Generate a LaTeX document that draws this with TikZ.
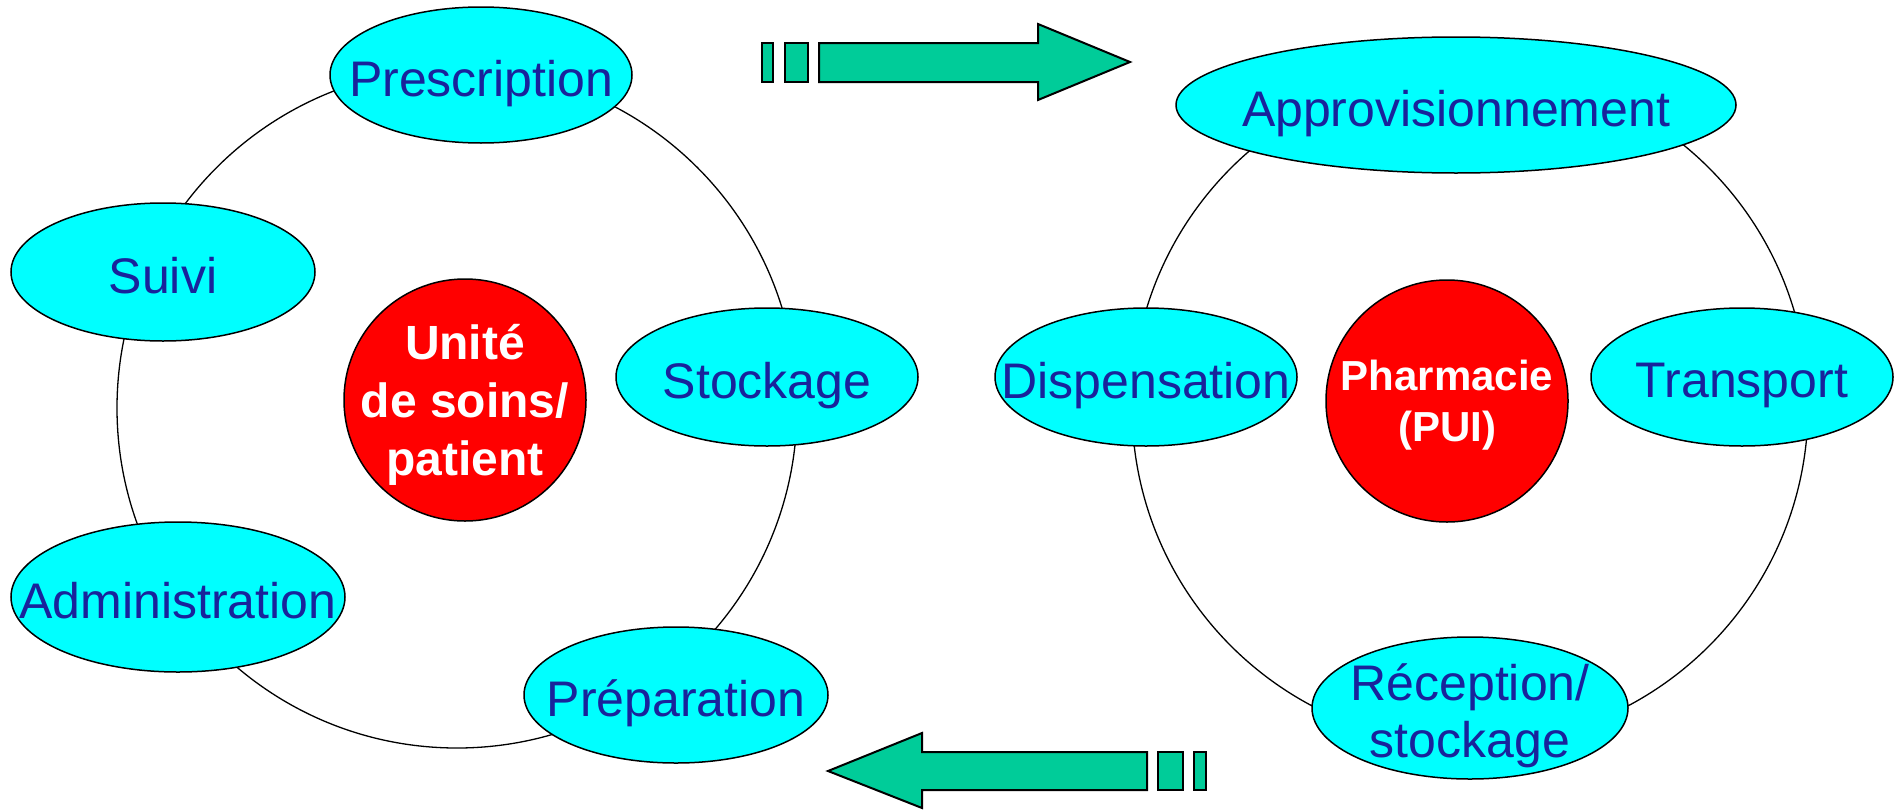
\documentclass[tikz,border=0pt]{standalone}
\usepackage{fontspec}
\setmainfont{Liberation Sans}
\usepackage{tikz}
\usetikzlibrary{shapes.geometric}
\definecolor{cyanfill}{RGB}{0,255,255}
\definecolor{stageblue}{RGB}{25,35,155}
\definecolor{flowgreen}{RGB}{0,204,153}
\definecolor{hubred}{RGB}{255,0,0}

\begin{document}
\begin{tikzpicture}[x=1pt, y=-1pt,
  ring/.style={circle, draw, line width=1.3pt, minimum size=#1, inner sep=0pt},
  stage/.style 2 args={ellipse, draw, line width=1.5pt, fill=cyanfill,
    minimum width=#1, minimum height=#2, inner sep=0pt},
  stagelabel/.style={text=stageblue, font=\fontsize{50}{57}\selectfont, align=center,
    text depth=0pt, yshift=-3pt},
  hub/.style={circle, draw, line width=1.5pt, fill=hubred, minimum size=242pt, inner sep=0pt},
  hublabel/.style 2 args={text=white, font=\bfseries\fontsize{#1}{#2}\selectfont, align=center,
    text depth=0pt},
  flow/.style={draw, line width=2pt, fill=flowgreen, line join=miter}]
  \useasboundingbox (0,0) rectangle (1894,811);
  % the two cycles
  \node[ring=680pt] (LR) at (457,408) {};
  \node[ring=676pt] (RR) at (1470,407) {};
  % unite de soins
  \node[stage={302pt}{136pt}, label={[stagelabel]center:Prescription}] (P) at (481,75) {};
  \node[stage={304pt}{138pt}, label={[stagelabel]center:Suivi}] (SU) at (163,272) {};
  \node[stage={302pt}{138pt}, label={[stagelabel]center:Stockage}] (ST) at (767,377) {};
  \node[stage={334pt}{150pt}, label={[stagelabel]center:Administration}] (AD) at (178,597) {};
  \node[stage={304pt}{136pt}, label={[stagelabel]center:Préparation}] (PR) at (676,695) {};
  \node[hub, label={[hublabel={48}{58}]center:{Unité\\de soins/\\patient}}] (US) at (465,400) {};
  % pharmacie
  \node[stage={560pt}{136pt}, label={[stagelabel]center:Approvisionnement}] (AP) at (1456,105) {};
  \node[stage={302pt}{138pt}, label={[stagelabel]center:Dispensation}] (DI) at (1146,377) {};
  \node[stage={302pt}{138pt}, label={[stagelabel]center:Transport}] (TR) at (1742,377) {};
  \node[stage={316pt}{142pt}, label={[stagelabel]center:{Réception/\\stockage}}] (RE) at (1470,708) {};
  \node[hub, label={[hublabel={42}{51}]center:{Pharmacie\\(PUI)}}] (PH) at (1447,401) {};
  % flow arrows
  \draw[flow] (819,43) -- (1038,43) -- (1038,24) -- (1130,62) -- (1038,100) -- (1038,82) -- (819,82) -- cycle;
  \draw[flow] (762,43) rectangle (773,82);
  \draw[flow] (785,43) rectangle (808,82);
  \draw[flow] (1147,752) -- (922,752) -- (922,733) -- (828,771) -- (922,808) -- (922,790) -- (1147,790) -- cycle;
  \draw[flow] (1158,752) rectangle (1183,790);
  \draw[flow] (1194,752) rectangle (1206,790);
\end{tikzpicture}
\end{document}
